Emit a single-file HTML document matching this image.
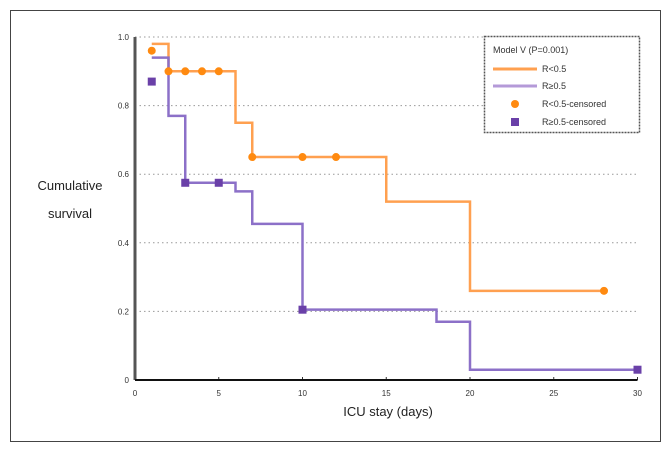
<!DOCTYPE html>
<html><head><meta charset="utf-8"><style>
body{margin:0;background:#fff;}
svg{display:block;font-family:"Liberation Sans",sans-serif;}
</style></head><body>
<svg width="671" height="452" id="c">
<rect x="10.5" y="10.5" width="650" height="431" fill="#fff" stroke="#444" stroke-width="1"/>
<text x="70" y="190" text-anchor="middle" font-size="13" fill="#222">Cumulative</text>
<text x="70" y="218" text-anchor="middle" font-size="13" fill="#222">survival</text>
<text x="388" y="416" text-anchor="middle" font-size="13" fill="#222">ICU stay (days)</text>
<g id="grid"></g><g id="series"></g><g id="axes"></g>
<g>
<rect x="484.5" y="36.5" width="155" height="96" fill="#fff" stroke="#555" stroke-width="1.5" stroke-dasharray="2,1"/>
<text x="493" y="53" font-size="9" fill="#333">Model V (P=0.001)</text>
<line x1="493" y1="69" x2="537" y2="69" stroke="#ffa050" stroke-width="3"/>
<text x="542" y="72" font-size="9" fill="#333">R&lt;0.5</text>
<line x1="493" y1="86" x2="537" y2="86" stroke="#b49ad8" stroke-width="3"/>
<text x="542" y="89" font-size="9" fill="#333">R≥0.5</text>
<circle cx="515" cy="104" r="4" fill="#ff8a10"/>
<text x="542" y="107" font-size="9" fill="#333">R&lt;0.5-censored</text>
<rect x="511" y="118" width="8" height="8" fill="#6a40a8"/>
<text x="542" y="125" font-size="9" fill="#333">R≥0.5-censored</text>
</g>
</svg>
<script>
const xTicks=[0,5,10,15,20,25,30];
const yTicks=[0,0.2,0.4,0.6,0.8,1.0];
const yTickLabels=["0","0.2","0.4","0.6","0.8","1.0"];
const lowTimes=[1,2,6,7,15,20,28];
const lowSurv=[0.98,0.90,0.75,0.65,0.52,0.26,0.26];
const lowCensT=[1,2,3,4,5,7,10,12,28];
const lowCensS=[0.96,0.90,0.90,0.90,0.90,0.65,0.65,0.65,0.26];
const highTimes=[1,2,3,6,7,10,18,20,30];
const highSurv=[0.94,0.77,0.575,0.55,0.455,0.205,0.17,0.03,0.03];
const highCensT=[1,3,5,10,30];
const highCensS=[0.87,0.575,0.575,0.205,0.03];
const NS="http://www.w3.org/2000/svg";
const X=t=>135+t*16.75, Y=v=>380-v*343;
function mk(tag,attrs,parent){const e=document.createElementNS(NS,tag);for(const k in attrs)e.setAttribute(k,attrs[k]);parent.appendChild(e);return e;}
const grid=document.getElementById('grid'),ser=document.getElementById('series'),ax=document.getElementById('axes');
yTicks.forEach((v,i)=>{
 if(v>0){const g=mk('line',{x1:X(0),x2:X(30),y1:Y(v),y2:Y(v),stroke:'#999','stroke-width':1,'stroke-dasharray':'1.5,3'},grid);
 
 }
 const t=mk('text',{x:X(0)-6,y:Y(v)+3,'text-anchor':'end','font-size':8,fill:'#333'},ax);t.textContent=yTickLabels[i];
 
 
});
xTicks.forEach(v=>{
 const t=mk('text',{x:X(v),y:Y(0)+16,'text-anchor':'middle','font-size':8,fill:'#333'},ax);t.textContent=v;
 
 
 mk('line',{x1:X(v),x2:X(v),y1:Y(0),y2:Y(0)-3,stroke:'#333'},ax);
});
const ya=mk('line',{x1:X(0),x2:X(0),y1:Y(1),y2:Y(0),stroke:'#555','stroke-width':3},ax);


const xa=mk('line',{x1:X(0),x2:X(30),y1:Y(0),y2:Y(0),stroke:'#111','stroke-width':2},ax);


function step(ts,ss){let d=`M${X(ts[0])},${Y(ss[0])}`;for(let i=1;i<ts.length;i++){d+=` H${X(ts[i])} V${Y(ss[i])}`;}return d;}
const pl=mk('path',{d:step(lowTimes,lowSurv),fill:'none',stroke:'#ffa050','stroke-width':2.5},ser);


const ph=mk('path',{d:step(highTimes,highSurv),fill:'none',stroke:'#8c70c8','stroke-width':2.5},ser);


lowCensT.forEach((t,i)=>{const c=mk('circle',{cx:X(t),cy:Y(lowCensS[i]),r:4,fill:'#ff8a10'},ser);
 
 });
highCensT.forEach((t,i)=>{const r=mk('rect',{x:X(t)-4,y:Y(highCensS[i])-4,width:8,height:8,fill:'#6a40a8'},ser);
 
 });
</script>
</body></html>
